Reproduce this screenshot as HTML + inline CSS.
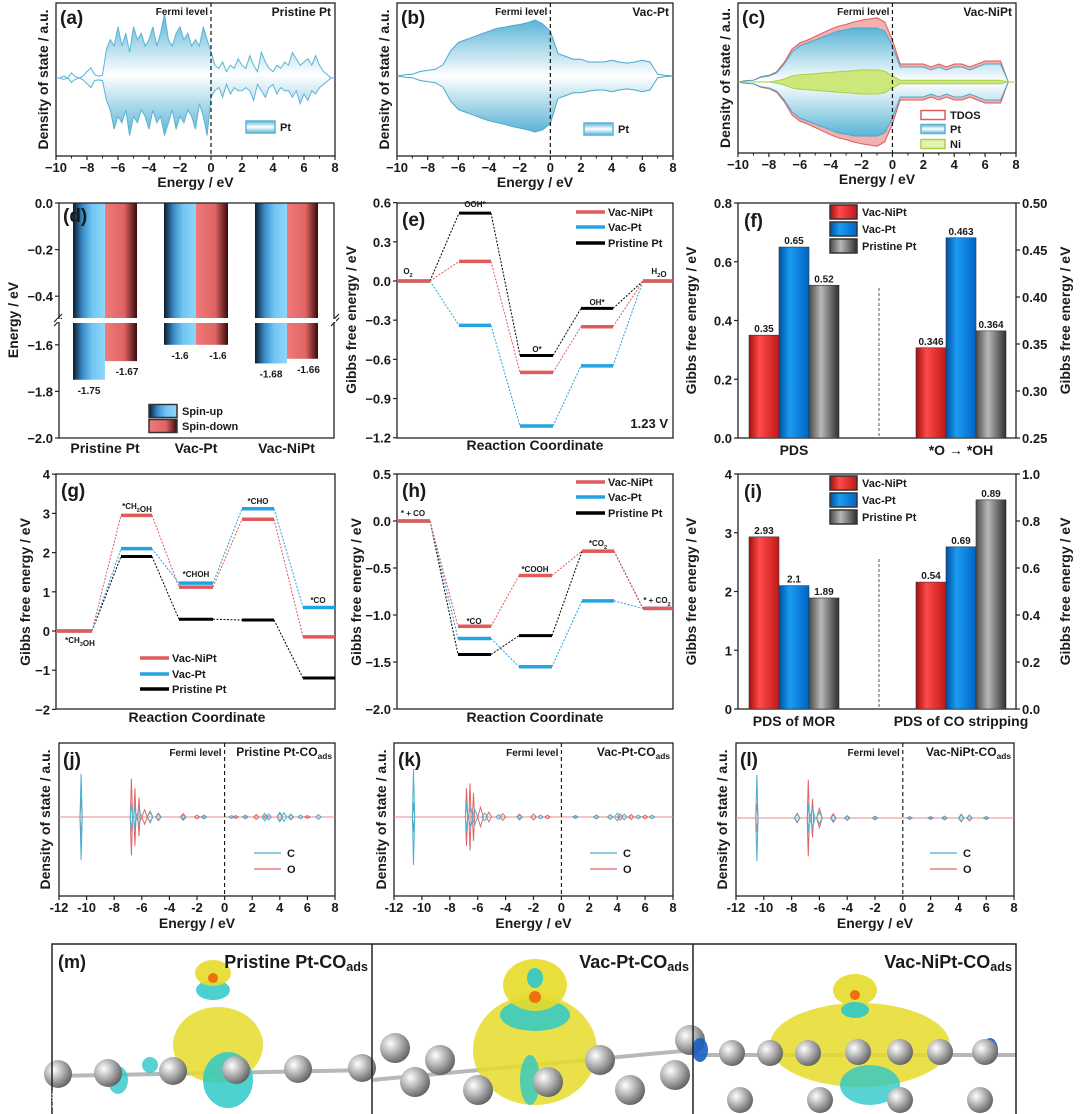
<!DOCTYPE html>
<html><head><meta charset="utf-8">
<style>
html,body{margin:0;padding:0;background:#fff;}
svg{display:block;font-family:"Liberation Sans","Noto Sans CJK SC",sans-serif;}
text{font-weight:bold;fill:#1a1a1a;}
</style></head>
<body>
<svg id="fig" width="1080" height="1114" viewBox="0 0 1080 1114" xmlns="http://www.w3.org/2000/svg">
<defs>
<linearGradient id="gBlueD" x1="0" x2="1" y1="0" y2="0"><stop offset="0" stop-color="#0c1c2c"/><stop offset="0.3" stop-color="#3a8cc8"/><stop offset="0.6" stop-color="#70c6f2"/><stop offset="1" stop-color="#8fd6fa"/></linearGradient>
<linearGradient id="gRedD" x1="0" x2="1" y1="0" y2="0"><stop offset="0" stop-color="#f07a7a"/><stop offset="0.6" stop-color="#e06464"/><stop offset="1" stop-color="#3a0a0a"/></linearGradient>
<linearGradient id="gRed" x1="0" x2="1"><stop offset="0" stop-color="#a01010"/><stop offset="0.35" stop-color="#ff4a4a"/><stop offset="1" stop-color="#c01818"/></linearGradient>
<linearGradient id="gBlue" x1="0" x2="1"><stop offset="0" stop-color="#0050a0"/><stop offset="0.35" stop-color="#1a9cf2"/><stop offset="1" stop-color="#0064c4"/></linearGradient>
<linearGradient id="gGray" x1="0" x2="1"><stop offset="0" stop-color="#4a4a4a"/><stop offset="0.4" stop-color="#b8b8b8"/><stop offset="1" stop-color="#2e2e2e"/></linearGradient>
<linearGradient id="gDos" x1="0" x2="0" y1="0" y2="1"><stop offset="0" stop-color="#5ab4d6"/><stop offset="0.5" stop-color="#ffffff"/><stop offset="1" stop-color="#5ab4d6"/></linearGradient>
<radialGradient id="gSph" cx="0.35" cy="0.35" r="0.7"><stop offset="0" stop-color="#ffffff"/><stop offset="0.5" stop-color="#b0b0b0"/><stop offset="1" stop-color="#606060"/></radialGradient>
</defs>
</svg>
<script>
// ---------- data ----------
const dosA_up=[0,0,0.3,0, 0.8,0.2,0,0.3, 1,1.6,0.5,0.3, 0.4,4.5, 6,5,8,5,7,4,8,6, 7,5,6,8,5,7,10,6, 5,7,8,6,7,5,6,5, 8,6,4, 2,1.5,2.5,1,2,1.5,3,2, 1.5,3.5,2,1,4,2.5,1.5,1, 2,1.5,2.5,2,4,3,2,2.5, 3,2,3.5,2,1,0.5,0,0];
const dosA_dn=[0,0,0.2,0, 0.7,0.2,0,0.3, 0.9,1.5,0.4,0.3, 0.4,3.5, 5,8,6,7,5,9,6,7, 5,6,8,5,7,6,9,7, 5,8,6,7,5,6,8,4, 6,9,3, 2,1.5,3,1,2.5,1.5,2,2, 1.5,2,3.5,1,2,3,1.5,1, 2.5,1.5,2,2,3,2,4,2.5, 3.5,2,2.5,1.5,1,0.5,0,0];
const dosB_up=[0,0.2,0.3,0.8,1,1.2,2,4.5,6,6.5,7,7.5,8,8.5,8.7,9,9.2,9.5,10,9.3,8,4,3.5,3,3,2.5,2.5,2.5,2.8,2.5,2.3,2.5,2.8,2.5,0.3,0.1,0];
const dosB_dn=[0,0.2,0.3,0.8,1,1.2,2,4.5,6,6.5,7,7.5,8,8.3,8.6,9,9.3,9.6,10,9.6,8.5,4,3.5,3,3,2.7,2.5,2.5,2.8,2.5,2.3,2.5,2.8,2.5,0.3,0.1,0];
const dosC_pt=[0,0.2,0.3,0.8,1,1.5,3,5,6,6.5,7,7.5,8,8.5,8.7,9,9,9,9,8.5,6,2.5,2.5,2.5,2.5,2,2.5,2,2.5,2.5,2,2.5,3,3,3,0,0];
const dosC_tdos=[0,0.2,0.3,0.9,1.1,1.7,3.3,5.5,6.5,7,7.6,8.2,8.8,9.3,9.6,10,10.3,10.5,10.7,10,7,3,3,3,3,2.5,3,2.5,3,3,2.5,3,3.5,3.5,3.5,0,0];
const dosC_ni=[0,0,0,0,0,0.2,0.5,1,1.2,1.3,1.4,1.5,1.6,1.7,1.8,1.9,2,2,2,1.8,1,0.3,0.3,0.3,0.3,0.3,0.3,0.3,0.3,0.3,0.3,0.3,0.3,0.3,0.3,0,0];
// spin centres (d)
const dCats=['Pristine Pt','Vac-Pt','Vac-NiPt'];
const dSpinUp=[-1.75,-1.6,-1.68];
const dSpinDn=[-1.67,-1.6,-1.66];
// ORR (e)
const eNiPt=[0,0.15,-0.70,-0.35,0];
const ePt=[0,-0.34,-1.11,-0.65,0];
const ePri=[0,0.52,-0.57,-0.21,0];
// (f)
const fLeft=[0.35,0.65,0.52];
const fRight=[0.346,0.463,0.364];
// MOR (g)
const gNiPt=[0,2.95,1.12,2.85,-0.15];
const gPt=[0,2.1,1.22,3.12,0.6];
const gPri=[0,1.9,0.3,0.28,-1.2];
// CO oxidation (h)
const hNiPt=[0,-1.12,-0.58,-0.32,-0.93];
const hPt=[0,-1.25,-1.55,-0.85,-0.93];
const hPri=[0,-1.42,-1.22,-0.32,-0.93];
// (i)
const iLeft=[2.93,2.1,1.89];
const iRight=[0.54,0.69,0.89];
// CO DOS peaks (j,k,l)
const jC_E=[-10.4,-6.75,-6.5,-6.2,-5.4,-4.8,-3,-1.5,0.5,1.5,2.9,3.2,4,4.3,4.8,5.5,6.8];
const jC_A=[9,3,2.5,1.5,1,0.6,0.4,0.3,0.3,0.3,0.8,0.6,1,0.9,0.6,0.4,0.5];
const jO_E=[-10.4,-6.75,-6.5,-6.2,-5.8,-5.4,-4.8,-3,-2,-1.5,0.8,1.5,2.3,3,4,4.8,6];
const jO_A=[4,8,6,4,1.5,1.2,0.8,0.7,0.4,0.4,0.3,0.4,0.5,0.4,0.7,0.5,0.3];
const kC_E=[-10.6,-6.8,-6.5,-6.2,-5.5,-4.5,-3,-1.5,1,2.5,3.5,4,4.5,5.5,6.5];
const kC_A=[10,3,2,1.5,0.8,0.5,0.4,0.4,0.3,0.4,0.5,0.8,0.6,0.4,0.4];
const kO_E=[-10.6,-6.8,-6.55,-6.3,-5.8,-5.2,-4.2,-3,-2,-1,1,2.5,3.5,4.2,5,6];
const kO_A=[3,6,7,5,2,1,0.7,0.6,0.6,0.4,0.3,0.4,0.5,0.6,0.5,0.4];
const lC_E=[-10.5,-7.6,-6.8,-6.5,-6,-5,-4,-2,0.5,2,3,4.2,4.8,6];
const lC_A=[9,0.8,3,2,1.2,0.6,0.4,0.3,0.2,0.2,0.3,0.6,0.5,0.3];
const lO_E=[-10.5,-7.6,-6.8,-6.5,-6,-5,-4,-2,0.5,2,3,4.2,4.8,6];
const lO_A=[3,1,8,4,2,0.9,0.5,0.4,0.3,0.3,0.4,0.8,0.6,0.3];

// ---------- helpers ----------
const NS='http://www.w3.org/2000/svg';
const svg=document.getElementById('fig');
function mk(tag,attrs,name,parent){
  const e=document.createElementNS(NS,tag);
  for(const k in attrs) e.setAttribute(k,attrs[k]);
  
  
  (parent||svg).appendChild(e);
  return e;
}
function txt(x,y,s,size,anchor,name,rot,fill){
  const a={x:x,y:y,'font-size':size,'text-anchor':anchor||'middle'};
  if(rot) a.transform='rotate(-90 '+x+' '+y+')';
  if(fill) a.style='fill:'+fill;
  const t=mk('text',a,name);
  t.innerHTML=s;
  return t;
}
function frame(x0,y0,x1,y1,name){
  mk('rect',{x:x0,y:y0,width:x1-x0,height:y1-y0,fill:'none',stroke:'#222','stroke-width':1.3},name);
}
function line(x1,y1,x2,y2,stroke,w,name,dash){
  const a={x1:x1,y1:y1,x2:x2,y2:y2,stroke:stroke,'stroke-width':w};
  if(dash) a['stroke-dasharray']=dash;
  return mk('line',a,name);
}
const SUB=s=>'<tspan font-size="0.7em" dy="3">'+s+'</tspan>';

// ---------- DOS panels a,b,c ----------
function energyAxis(x0,x1,yb,emin,emax,step,name){
  const sx=e=>x0+(e-emin)/(emax-emin)*(x1-x0);
  for(let e=emin;e<=emax;e+=step){
    line(sx(e),yb,sx(e),yb+4,'#222',1.2,name+'-tick');
    txt(sx(e),yb+16,(e<0?'−':'')+Math.abs(e),13,'middle',name+'-tick-label');
  }
  for(let e=emin+step/2;e<emax;e+=step){line(sx(e),yb,sx(e),yb+2.5,'#222',1,name+'-minor-tick');}
  txt((x0+x1)/2,yb+31,'Energy / eV',14,'middle',name+'-x-title');
  return sx;
}
function envPath(sx,y0,up,dn,scale,emin,step){
  let d='';
  up.forEach((v,i)=>{d+=(i?'L':'M')+sx(emin+i*step).toFixed(1)+' '+(y0-v*scale).toFixed(1);});
  for(let i=dn.length-1;i>=0;i--) d+='L'+sx(emin+i*step).toFixed(1)+' '+(y0+dn[i]*scale).toFixed(1);
  return d+'Z';
}
function dosPanel(o){
  frame(o.x0,o.y0,o.x1,o.y1,o.id+'-frame');
  const sx=energyAxis(o.x0,o.x1,o.y1,-10,8,2,o.id+'-x-axis');
  line(o.x0,o.zero,o.x1,o.zero,'#5ab4d6',1,o.id+'-baseline');
  o.series.forEach(s=>{
    mk('path',{d:envPath(sx,o.zero,s.up,s.dn,o.scale,-10,s.step),fill:s.fill,stroke:s.stroke,'stroke-width':1,'fill-opacity':s.op||1},o.id+'-'+s.name+'-dos');
  });
  line(sx(0),o.y0,sx(0),o.y1,'#111',1.2,o.id+'-fermi-line','4,3');
  txt(sx(0)-3,o.y0+12,'Fermi level',10,'end',o.id+'-fermi-label');
  txt(o.x1-4,o.y0+13,o.title,12,'end',o.id+'-title');
  txt(o.x0+4,o.y0+21,o.letter,19,'start',o.id+'-panel-letter');
  txt(o.ylx,(o.y0+o.y1)/2,'Density of state / a.u.',14,'middle',o.id+'-y-title',true);
}
dosPanel({id:'a',x0:56,y0:3,x1:335,y1:156,zero:78,scale:6.4,letter:'(a)',title:'Pristine Pt',ylx:48,
  series:[{name:'pt',up:dosA_up,dn:dosA_dn,step:0.25,fill:'url(#gDos)',stroke:'#5ab4d6'}]});
dosPanel({id:'b',x0:397,y0:3,x1:673,y1:156,zero:76,scale:5.6,letter:'(b)',title:'Vac-Pt',ylx:389,
  series:[{name:'pt',up:dosB_up,dn:dosB_dn,step:0.5,fill:'url(#gDos)',stroke:'#4aa8d0'}]});
dosPanel({id:'c',x0:738,y0:3,x1:1016,y1:153,zero:82,scale:6.0,letter:'(c)',title:'Vac-NiPt',ylx:730,
  series:[{name:'tdos',up:dosC_tdos,dn:dosC_tdos,step:0.5,fill:'#f3b0b0',stroke:'#e05a5a'},
          {name:'pt',up:dosC_pt,dn:dosC_pt,step:0.5,fill:'url(#gDos)',stroke:'#4aa8d0'},
          {name:'ni',up:dosC_ni,dn:dosC_ni,step:0.5,fill:'#cde87a',stroke:'#a8d048'}]});
// DOS legends
function boxLegend(x,y,w,h,fill,stroke,label,name){
  mk('rect',{x:x,y:y-h/2,width:w,height:h,fill:fill,stroke:stroke,'stroke-width':1.5},name+'-swatch');
  txt(x+w+5,y+4,label,11,'start',name+'-label');
}
boxLegend(246,127,29,12,'url(#gDos)','#5ab4d6','Pt','a-legend-pt');
boxLegend(584,129,29,12,'url(#gDos)','#5ab4d6','Pt','b-legend-pt');
boxLegend(921,115,24,9,'#fff','#e05a5a','TDOS','c-legend-tdos');
boxLegend(921,129,24,9,'url(#gDos)','#5ab4d6','Pt','c-legend-pt');
boxLegend(921,144,24,9,'#e4f4b0','#a8d048','Ni','c-legend-ni');

// ---------- (d) ----------
(function(){
  const x0=59,x1=334,y0=203,y1=438;
  const dy=v=> v>=-0.5 ? y0+(-v)*233 : y1-(v+2)*233;
  const groups=[[73,105,137],[164,196,228],[255,287,318]];
  dCats.forEach((c,i)=>{
    const g=groups[i];
    mk('rect',{x:g[0],y:y0,width:g[1]-g[0],height:dy(dSpinUp[i])-y0,fill:'url(#gBlueD)'},'d-bar-spin-up-'+i);
    mk('rect',{x:g[1],y:y0,width:g[2]-g[1],height:dy(dSpinDn[i])-y0,fill:'url(#gRedD)'},'d-bar-spin-down-'+i);
    txt((g[0]+g[1])/2,dy(dSpinUp[i])+14,String(dSpinUp[i]).replace('-','-'),10,'middle','d-value-up-'+i);
    txt((g[1]+g[2])/2+6,dy(dSpinDn[i])+14,String(dSpinDn[i]),10,'middle','d-value-down-'+i);
    txt((g[0]+g[2])/2,453,c,14,'middle','d-category-label');
  });
  mk('rect',{x:x0-8,y:318,width:x1-x0+16,height:5,fill:'#fff'},'d-axis-break');
  line(x0-5,322,x0+3,314,'#222',1.2,'d-break-mark');line(x0-5,326,x0+3,318,'#222',1.2,'d-break-mark');
  line(x1-3,322,x1+5,314,'#222',1.2,'d-break-mark');line(x1-3,326,x1+5,318,'#222',1.2,'d-break-mark');
  mk('path',{d:`M${x0} ${y0}H${x1}V${y1}H${x0}Z`,fill:'none',stroke:'#222','stroke-width':1.3},'d-frame');
  mk('rect',{x:x0-2,y:319,width:x1-x0+4,height:3,fill:'#fff'},'d-break-gap');
  [0,-0.2,-0.4,-1.6,-1.8,-2.0].forEach(v=>{
    line(x0-4,dy(v),x0,dy(v),'#222',1.2,'d-y-tick');
    txt(x0-6,dy(v)+5,(v<0?'−':'')+Math.abs(v).toFixed(1),13,'end','d-y-tick-label');
  });
  txt(18,320,'Energy / eV',14,'middle','d-y-title',true);
  txt(63,222,'(d)',19,'start','d-panel-letter');
  boxLegend(149,411,28,13,'url(#gBlueD)','#333','Spin-up','d-legend-up');
  boxLegend(149,426,28,13,'url(#gRedD)','#333','Spin-down','d-legend-down');
})();

// ---------- level diagrams ----------
function levels(vals,segs,sy,color,w,name){
  vals.forEach((v,i)=>{
    if(i<vals.length-1) line(segs[i][1],sy(v),segs[i+1][0],sy(vals[i+1]),color,1,name+'-connector','2,1.5');
  });
  vals.forEach((v,i)=>{ line(segs[i][0],sy(v),segs[i][1],sy(v),color,w,name+'-level-'+i); });
}
function yTicks(x,vals,sy,fmt,side,name){
  vals.forEach(v=>{
    const dir=side==='left'?-1:1;
    line(x,sy(v),x+dir*4,sy(v),'#222',1.2,name+'-tick');
    txt(x+dir*6,sy(v)+5,fmt(v),13,side==='left'?'end':'start',name+'-tick-label');
  });
}
const neg=(v,d)=>(v<0?'−':'')+Math.abs(v).toFixed(d);
function legendLines(x,ys,cols,labels,name){
  ys.forEach((y,i)=>{line(x,y,x+29,y,cols[i],3.5,name+'-line-'+i);txt(x+32,y+4,labels[i],11,'start',name+'-label-'+i);});
}
const RED='#e35a5a',BLU='#23a3e2',BLK='#000';
// (e)
(function(){
  const x0=397,x1=673,y0=203,y1=438, sy=v=>281-v*130.6;
  const segs=[[397,430],[459,491],[520,553],[581,613],[643,673]];
  frame(x0,y0,x1,y1,'e-frame');
  levels(ePri,segs,sy,BLK,3,'e-pristine');
  levels(ePt,segs,sy,BLU,3.5,'e-vac-pt');
  levels(eNiPt,segs,sy,RED,3.5,'e-vac-nipt');
  yTicks(x0,[0.6,0.3,0,-0.3,-0.6,-0.9,-1.2],sy,v=>neg(v,1),'left','e-y');
  txt(356,320,'Gibbs free energy / eV',14,'middle','e-y-title',true);
  txt(535,450,'Reaction Coordinate',14,'middle','e-x-title');
  txt(402,226,'(e)',19,'start','e-panel-letter');
  txt(408,274,'O'+SUB('2'),8,'middle','e-label-o2');
  txt(475,207,'OOH*',8,'middle','e-label-ooh');
  txt(537,352,'O*',8,'middle','e-label-o');
  txt(597,305,'OH*',8,'middle','e-label-oh');
  txt(659,274,'H'+SUB('2')+'O',8,'middle','e-label-h2o');
  txt(668,428,'1.23 V',13,'end','e-potential');
  legendLines(576,[212,227,243],[RED,BLU,BLK],['Vac-NiPt','Vac-Pt','Pristine Pt'],'e-legend');
})();
// bar panels
function barPanel(o){
  frame(o.x0,o.y0,o.x1,o.y1,o.id+'-frame');
  const grads=['url(#gRed)','url(#gBlue)','url(#gGray)'];
  o.left.forEach((v,i)=>{const x=o.lx[i];mk('rect',{x:x,y:o.syL(v),width:o.bw,height:o.y1-o.syL(v),fill:grads[i],stroke:'#333','stroke-width':0.6},o.id+'-bar-left-'+i);
    txt(x+o.bw/2,o.syL(v)-3,String(v),10,'middle',o.id+'-value-left-'+i);});
  o.right.forEach((v,i)=>{const x=o.rx[i];mk('rect',{x:x,y:o.syR(v),width:o.bw,height:o.y1-o.syR(v),fill:grads[i],stroke:'#333','stroke-width':0.6},o.id+'-bar-right-'+i);
    txt(x+o.bw/2,o.syR(v)-3,String(v),10,'middle',o.id+'-value-right-'+i);});
  line(879,o.y0+85,879,o.y1,'#555',1,o.id+'-divider','3,2');
  yTicks(o.x0,o.lt,o.syL,o.lf,'left',o.id+'-y-left');
  yTicks(o.x1,o.rt,o.syR,o.rf,'right',o.id+'-y-right');
  txt(o.x0-42,(o.y0+o.y1)/2,'Gibbs free energy / eV',14,'middle',o.id+'-y-left-title',true);
  txt(o.x1+54,(o.y0+o.y1)/2,'Gibbs free energy / eV',14,'middle',o.id+'-y-right-title',true);
  txt(794,o.y1+17,o.c1,14,'middle',o.id+'-category-1');
  txt(961,o.y1+17,o.c2,14,'middle',o.id+'-category-2');
  txt(o.x0+6,o.y0+24,o.letter,19,'start',o.id+'-panel-letter');
  boxLegend(830,o.ly,27,14,'url(#gRed)','#333','Vac-NiPt',o.id+'-legend-nipt');
  boxLegend(830,o.ly+17,27,14,'url(#gBlue)','#333','Vac-Pt',o.id+'-legend-pt');
  boxLegend(830,o.ly+34,27,14,'url(#gGray)','#333','Pristine Pt',o.id+'-legend-pristine');
}
barPanel({id:'f',x0:738,y0:203,x1:1016,y1:438,bw:30,lx:[749,779,809],rx:[916,946,976],
  left:fLeft,right:fRight,syL:v=>438-v/0.8*235,syR:v=>438-(v-0.25)/0.25*235,
  lt:[0,0.2,0.4,0.6,0.8],rt:[0.25,0.3,0.35,0.4,0.45,0.5],lf:v=>v.toFixed(1),rf:v=>v.toFixed(2),
  c1:'PDS',c2:'*O → *OH',letter:'(f)',ly:212});
barPanel({id:'i',x0:738,y0:474,x1:1016,y1:709,bw:30,lx:[749,779,809],rx:[916,946,976],
  left:iLeft,right:iRight,syL:v=>709-v/4*235,syR:v=>709-v*235,
  lt:[0,1,2,3,4],rt:[0,0.2,0.4,0.6,0.8,1.0],lf:v=>String(v),rf:v=>v.toFixed(1),
  c1:'PDS of MOR',c2:'PDS of CO stripping',letter:'(i)',ly:483});
// (g)
(function(){
  const x0=56,x1=335,y0=474,y1=709, sy=v=>631-v*39.2;
  const segs=[[56,92],[121,152],[179,213],[242,274],[303,335]];
  frame(x0,y0,x1,y1,'g-frame');
  levels(gPri,segs,sy,BLK,3,'g-pristine');
  levels(gPt,segs,sy,BLU,3.5,'g-vac-pt');
  levels(gNiPt,segs,sy,RED,3.5,'g-vac-nipt');
  yTicks(x0,[4,3,2,1,0,-1,-2],sy,v=>neg(v,0),'left','g-y');
  txt(30,592,'Gibbs free energy / eV',14,'middle','g-y-title',true);
  txt(197,722,'Reaction Coordinate',14,'middle','g-x-title');
  txt(61,497,'(g)',19,'start','g-panel-letter');
  txt(80,643,'*CH'+SUB('3')+'OH',8,'middle','g-label-ch3oh');
  txt(137,509,'*CH'+SUB('2')+'OH',8,'middle','g-label-ch2oh');
  txt(196,577,'*CHOH',8,'middle','g-label-choh');
  txt(258,504,'*CHO',8,'middle','g-label-cho');
  txt(318,603,'*CO',8,'middle','g-label-co');
  legendLines(140,[658,674,689],[RED,BLU,BLK],['Vac-NiPt','Vac-Pt','Pristine Pt'],'g-legend');
})();
// (h)
(function(){
  const x0=397,x1=673,y0=474,y1=709, sy=v=>474+(0.5-v)*94;
  const segs=[[397,430],[458,491],[519,552],[582,614],[643,673]];
  frame(x0,y0,x1,y1,'h-frame');
  levels(hPri,segs,sy,BLK,3,'h-pristine');
  levels(hPt,segs,sy,BLU,3.5,'h-vac-pt');
  levels(hNiPt,segs,sy,RED,3.5,'h-vac-nipt');
  yTicks(x0,[0.5,0,-0.5,-1,-1.5,-2],sy,v=>neg(v,1),'left','h-y');
  txt(361,592,'Gibbs free energy / eV',14,'middle','h-y-title',true);
  txt(535,722,'Reaction Coordinate',14,'middle','h-x-title');
  txt(402,497,'(h)',19,'start','h-panel-letter');
  txt(413,516,'* + CO',8,'middle','h-label-start');
  txt(474,624,'*CO',8,'middle','h-label-co');
  txt(535,572,'*COOH',8,'middle','h-label-cooh');
  txt(598,546,'*CO'+SUB('2'),8,'middle','h-label-co2');
  txt(657,603,'* + CO'+SUB('2'),8,'middle','h-label-end');
  legendLines(576,[482,497,513],[RED,BLU,BLK],['Vac-NiPt','Vac-Pt','Pristine Pt'],'h-legend');
})();

// ---------- j,k,l ----------
function coPanel(o){
  frame(o.x0,o.y0,o.x1,o.y1,o.id+'-frame');
  const sx=e=>o.x0+(e+12)/20*(o.x1-o.x0);
  for(let e=-12;e<=8;e+=2){line(sx(e),o.y1,sx(e),o.y1+4,'#222',1.2,o.id+'-x-tick');txt(sx(e),o.y1+16,String(e),13,'middle',o.id+'-x-tick-label');}
  txt((o.x0+o.x1)/2,o.y1+32,'Energy / eV',14,'middle',o.id+'-x-title');
  line(o.x0,o.zero,o.x1,o.zero,'#e88',1,o.id+'-baseline');
  const sc=4.8;
  [[o.OE,o.OA,'#e06666','o'],[o.CE,o.CA,'#4ab0d0','c']].forEach(s=>{
    let d='';
    s[0].forEach((e,i)=>{
      const a=s[1][i]*sc, w=s[1][i]>2?0.08:0.2;
      d+=`M${sx(e-w).toFixed(1)} ${o.zero}L${sx(e).toFixed(1)} ${(o.zero-a).toFixed(1)}L${sx(e+w).toFixed(1)} ${o.zero}L${sx(e).toFixed(1)} ${(o.zero+a).toFixed(1)}Z`;
    });
    mk('path',{d:d,fill:'none',stroke:s[2],'stroke-width':1},o.id+'-'+s[3]+'-dos');
  });
  line(sx(0),o.y0,sx(0),o.y1,'#111',1.1,o.id+'-fermi-line','4,3');
  txt(sx(0)-3,o.y0+13,'Fermi level',10,'end',o.id+'-fermi-label');
  txt(o.x1-3,o.y0+13,o.title+SUB('ads'),12,'end',o.id+'-title');
  txt(o.x0+4,o.y0+23,o.letter,19,'start',o.id+'-panel-letter');
  txt(o.ylx,(o.y0+o.y1)/2,'Density of state / a.u.',14,'middle',o.id+'-y-title',true);
  line(o.lx,o.y0+110,o.lx+27,o.y0+110,'#4ab0d0',1.3,o.id+'-legend-c-line');
  txt(o.lx+33,o.y0+114,'C',11,'start',o.id+'-legend-c-label');
  line(o.lx,o.y0+126,o.lx+27,o.y0+126,'#e06666',1.3,o.id+'-legend-o-line');
  txt(o.lx+33,o.y0+130,'O',11,'start',o.id+'-legend-o-label');
}
coPanel({id:'j',x0:59,y0:743,x1:335,y1:896,zero:817,CE:jC_E,CA:jC_A,OE:jO_E,OA:jO_A,letter:'(j)',title:'Pristine Pt-CO',ylx:50,lx:254});
coPanel({id:'k',x0:394,y0:743,x1:673,y1:896,zero:817,CE:kC_E,CA:kC_A,OE:kO_E,OA:kO_A,letter:'(k)',title:'Vac-Pt-CO',ylx:386,lx:590});
coPanel({id:'l',x0:736,y0:743,x1:1014,y1:896,zero:818,CE:lC_E,CA:lC_A,OE:lO_E,OA:lO_A,letter:'(l)',title:'Vac-NiPt-CO',ylx:727,lx:930});

// ---------- (m) renders ----------
(function(){
  const g=mk('g',{},'m-structure-renders');
  function blob(cx,cy,rx,ry,c,op,n){mk('ellipse',{cx:cx,cy:cy,rx:rx,ry:ry,fill:c,'fill-opacity':op},n,g);}
  function sph(cx,cy,r){mk('circle',{cx:cx,cy:cy,r:r,fill:'url(#gSph)'},'m-pt-atom',g);}
  function rod(x1,y1,x2,y2){mk('line',{x1:x1,y1:y1,x2:x2,y2:y2,stroke:'#b8b8b8','stroke-width':4},'m-bond',g);}
  // panel 1
  rod(52,1076,372,1070);
  blob(218,1045,45,38,'#e6dc2a',0.85,'m1-yellow-lobe');blob(228,1080,25,28,'#2ec8c8',0.85,'m1-cyan-lobe');
  blob(118,1080,10,14,'#2ec8c8',0.8,'m1-cyan-small');blob(150,1065,8,8,'#2ec8c8',0.8,'m1-cyan-small');
  blob(213,990,17,10,'#2ec8c8',0.85,'m1-cyan-top');blob(213,973,18,13,'#e6dc2a',0.9,'m1-yellow-top');
  mk('circle',{cx:213,cy:978,r:5,fill:'#f07010'},'m1-o-atom',g);
  [[58,1074],[108,1073],[173,1071],[236,1070],[298,1069],[362,1068]].forEach(p=>sph(p[0],p[1],14));
  // panel 2
  rod(372,1080,693,1050);
  blob(535,1050,62,55,'#e6dc2a',0.85,'m2-yellow-lobe');blob(535,1015,35,16,'#2ec8c8',0.85,'m2-cyan-mid');
  blob(535,985,32,26,'#e6dc2a',0.9,'m2-yellow-top');blob(535,978,8,10,'#2ec8c8',0.9,'m2-cyan-top');
  blob(530,1080,10,25,'#2ec8c8',0.8,'m2-cyan-low');
  mk('circle',{cx:535,cy:997,r:6,fill:'#f07010'},'m2-o-atom',g);
  [[395,1048],[415,1082],[478,1090],[548,1082],[630,1090],[675,1075],[440,1060],[600,1060],[690,1040]].forEach(p=>sph(p[0],p[1],15));
  // panel 3
  rod(693,1055,1016,1055);
  blob(860,1045,90,42,'#e6dc2a',0.85,'m3-yellow-lobe');blob(870,1085,30,20,'#2ec8c8',0.8,'m3-cyan-low');
  blob(855,990,22,16,'#e6dc2a',0.9,'m3-yellow-top');blob(855,1010,14,8,'#2ec8c8',0.9,'m3-cyan-mid');
  blob(700,1050,8,12,'#1a60c0',0.9,'m3-ni-atom');blob(990,1050,8,12,'#1a60c0',0.9,'m3-ni-atom');
  mk('circle',{cx:855,cy:995,r:5,fill:'#f07010'},'m3-o-atom',g);
  [[732,1053],[770,1053],[808,1053],[858,1052],[900,1052],[940,1052],[985,1052],[740,1100],[820,1100],[900,1100],[980,1100]].forEach(p=>sph(p[0],p[1],13));
  // frame
  mk('rect',{x:52,y:944,width:964,height:172,fill:'none',stroke:'#222','stroke-width':1.5},'m-frame');
  line(372,944,372,1114,'#222',1.5,'m-divider');
  line(693,944,693,1114,'#222',1.5,'m-divider');
  txt(58,968,'(m)',18,'start','m-panel-letter');
  txt(368,968,'Pristine Pt-CO'+SUB('ads'),18,'end','m-title-pristine');
  txt(689,968,'Vac-Pt-CO'+SUB('ads'),18,'end','m-title-vac-pt');
  txt(1012,968,'Vac-NiPt-CO'+SUB('ads'),18,'end','m-title-vac-nipt');
  txt(10,1106,'℃ 大数跨境',18,'start','watermark',false,'rgba(255,255,255,0.85)');
})();
</script>
</body></html>
